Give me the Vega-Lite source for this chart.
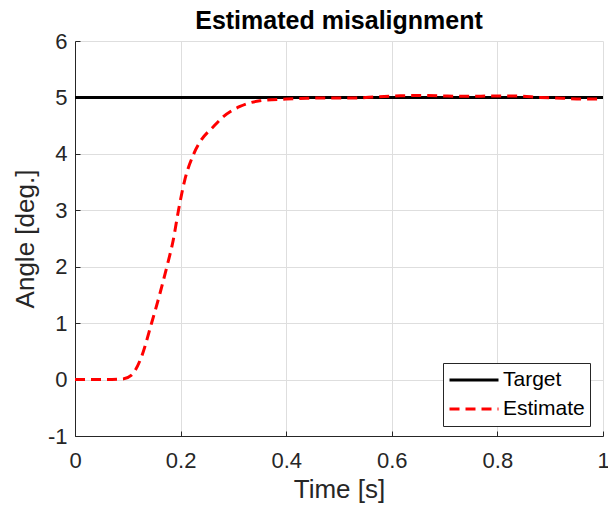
{
  "$schema": "https://vega.github.io/schema/vega-lite/v6.json",
  "width": 528,
  "height": 395,
  "autosize": {"type": "none"},
  "padding": {"left": 75, "top": 41, "right": 5, "bottom": 75},
  "background": "white",
  "title": {"text": "Estimated misalignment", "fontSize": 25, "fontWeight": "bold", "font": "Liberation Sans", "color": "#000000", "offset": -4, "anchor": "middle"},
  "config": {
    "view": {"stroke": null},
    "font": "Liberation Sans",
    "axis": {
      "labelFont": "Liberation Sans", "titleFont": "Liberation Sans",
      "labelFontSize": 22, "titleFontSize": 26, "titleFontWeight": "normal",
      "labelColor": "#262626", "titleColor": "#262626",
      "domainColor": "#262626", "domainWidth": 1,
      "tickColor": "#262626", "tickSize": -5,
      "gridColor": "#dedede", "gridWidth": 1
    },
    "legend": {
      "orient": "none", "legendX": 368, "legendY": 322,
      "fillColor": "white", "strokeColor": "#262626", "strokeWidth": 1,
      "padding": 5, "labelFontSize": 21, "labelFont": "Liberation Sans", "labelColor": "#000000",
      "symbolType": "stroke", "symbolStrokeWidth": 3, "symbolSize": 2401,
      "clipHeight": 24, "labelOffset": 3, "rowPadding": 5, "title": null
    }
  },
  "data": {"values": [
    {"t": 0, "v": 5, "s": "Target"},
    {"t": 1, "v": 5, "s": "Target"},
    {"t": 0, "v": 0, "s": "Estimate"},
    {"t": 0.05, "v": 0, "s": "Estimate"},
    {"t": 0.09, "v": 0.01, "s": "Estimate"},
    {"t": 0.107, "v": 0.08, "s": "Estimate"},
    {"t": 0.126, "v": 0.405, "s": "Estimate"},
    {"t": 0.145, "v": 1.0, "s": "Estimate"},
    {"t": 0.161, "v": 1.53, "s": "Estimate"},
    {"t": 0.174, "v": 2.0, "s": "Estimate"},
    {"t": 0.186, "v": 2.47, "s": "Estimate"},
    {"t": 0.196, "v": 3.0, "s": "Estimate"},
    {"t": 0.208, "v": 3.54, "s": "Estimate"},
    {"t": 0.224, "v": 3.98, "s": "Estimate"},
    {"t": 0.237, "v": 4.215, "s": "Estimate"},
    {"t": 0.262, "v": 4.48, "s": "Estimate"},
    {"t": 0.281, "v": 4.66, "s": "Estimate"},
    {"t": 0.3125, "v": 4.84, "s": "Estimate"},
    {"t": 0.35, "v": 4.94, "s": "Estimate"},
    {"t": 0.4, "v": 4.97, "s": "Estimate"},
    {"t": 0.439, "v": 4.985, "s": "Estimate"},
    {"t": 0.483, "v": 4.99, "s": "Estimate"},
    {"t": 0.527, "v": 4.99, "s": "Estimate"},
    {"t": 0.571, "v": 5.01, "s": "Estimate"},
    {"t": 0.616, "v": 5.03, "s": "Estimate"},
    {"t": 0.659, "v": 5.035, "s": "Estimate"},
    {"t": 0.704, "v": 5.025, "s": "Estimate"},
    {"t": 0.748, "v": 5.02, "s": "Estimate"},
    {"t": 0.789, "v": 5.025, "s": "Estimate"},
    {"t": 0.837, "v": 5.025, "s": "Estimate"},
    {"t": 0.881, "v": 5.0, "s": "Estimate"},
    {"t": 0.924, "v": 4.985, "s": "Estimate"},
    {"t": 0.966, "v": 4.97, "s": "Estimate"},
    {"t": 1.0, "v": 4.97, "s": "Estimate"}
  ]},
  "mark": {"type": "line", "strokeWidth": 3, "interpolate": "monotone", "clip": true},
  "encoding": {
    "x": {"field": "t", "type": "quantitative", "title": "Time [s]",
      "scale": {"domain": [0, 1], "nice": false},
      "axis": {"values": [0, 0.2, 0.4, 0.6, 0.8, 1], "format": "~g", "labelPadding": 19, "titlePadding": 5, "labelFlush": false}},
    "y": {"field": "v", "type": "quantitative", "title": "Angle [deg.]",
      "scale": {"domain": [-1, 6], "nice": false, "zero": false},
      "axis": {"values": [-1, 0, 1, 2, 3, 4, 5, 6], "labelPadding": 13, "titlePadding": 9,
        "labelExpr": "replace(datum.label, '−', '-')"}},
    "color": {"field": "s", "type": "nominal", "sort": ["Target", "Estimate"],
      "scale": {"domain": ["Target", "Estimate"], "range": ["#000000", "#ff0000"]}},
    "strokeDash": {"field": "s", "type": "nominal", "sort": ["Target", "Estimate"],
      "scale": {"domain": ["Target", "Estimate"], "range": [[1, 0], [10, 6]]}},
    "order": {"field": "t", "type": "quantitative"}
  }
}
